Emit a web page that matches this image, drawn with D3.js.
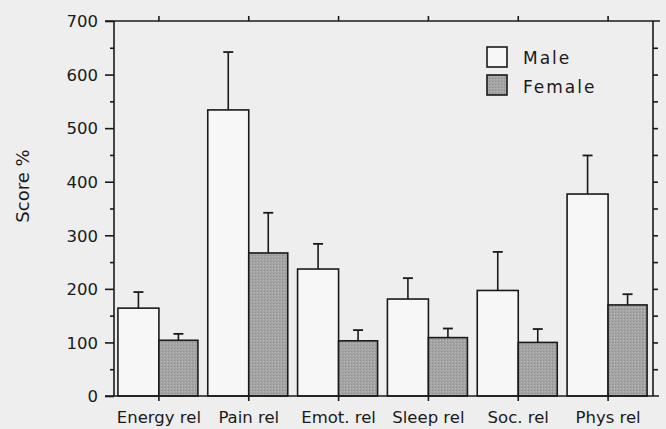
<!DOCTYPE html>
<html><head><meta charset="utf-8">
<script src="https://cdn.jsdelivr.net/npm/d3@7"></script>
<style>
body{margin:0;background:#eeeeee;}
svg{display:block;}
text{font-family:"DejaVu Sans",sans-serif;fill:#1a1a1a;}
</style></head>
<body>
<script>
const categories = ["Energy rel","Pain rel","Emot. rel","Sleep rel","Soc. rel","Phys rel"];
const maleValues = [164, 534, 237, 181, 197, 377];
const maleErrors = [194, 642, 284, 220, 269, 449];
const femaleValues = [104, 267, 103, 109, 100, 170];
const femaleErrors = [116, 342, 123, 126, 125, 190];
const yTicks = [0,100,200,300,400,500,600,700];
const seriesNames = ["Male","Female"];

const W = 666, H = 429;
const pLeft = 114, pRight = 653, pTop = 21, pBottom = 396;
const svg = d3.select("body").append("svg").attr("width",W).attr("height",H);

const defs = svg.append("defs");
const pat = defs.append("pattern").attr("id","stip").attr("patternUnits","userSpaceOnUse")
  .attr("width",3).attr("height",3);
pat.append("rect").attr("width",3).attr("height",3).attr("fill","#a4a4a4");
pat.append("rect").attr("x",0).attr("y",0).attr("width",1).attr("height",1).attr("fill","#8e8e8e");
pat.append("rect").attr("x",2).attr("y",1).attr("width",1).attr("height",1).attr("fill","#b8b8b8");

const x = d3.scaleBand().domain(categories).range([pLeft,pRight]).padding(0);
const y = d3.scaleLinear().domain([0,700]).range([pBottom,pTop]);
const barW = 41;
const stroke = "#1a1a1a";

const g = svg.append("g");
categories.forEach((c,i)=>{
  const cx = x(c) + x.bandwidth()/2;
  g.append("rect").attr("x",cx-barW).attr("y",y(maleValues[i])).attr("width",barW)
    .attr("height",y(0)-y(maleValues[i])).attr("fill","#f7f7f7").attr("stroke",stroke).attr("stroke-width",1.6);
  g.append("line").attr("x1",cx-barW/2).attr("x2",cx-barW/2).attr("y1",y(maleValues[i])).attr("y2",y(maleErrors[i]))
    .attr("stroke",stroke).attr("stroke-width",1.6);
  g.append("line").attr("x1",cx-barW/2-5).attr("x2",cx-barW/2+5).attr("y1",y(maleErrors[i])).attr("y2",y(maleErrors[i]))
    .attr("stroke",stroke).attr("stroke-width",1.8);
  g.append("rect").attr("x",cx).attr("y",y(femaleValues[i])).attr("width",barW-2)
    .attr("height",y(0)-y(femaleValues[i])).attr("fill","url(#stip)").attr("stroke",stroke).attr("stroke-width",1.6);
  const fx = cx + (barW-2)/2;
  g.append("line").attr("x1",fx).attr("x2",fx).attr("y1",y(femaleValues[i])).attr("y2",y(femaleErrors[i]))
    .attr("stroke",stroke).attr("stroke-width",1.6);
  g.append("line").attr("x1",fx-5).attr("x2",fx+5).attr("y1",y(femaleErrors[i])).attr("y2",y(femaleErrors[i]))
    .attr("stroke",stroke).attr("stroke-width",1.8);
});

svg.append("line").attr("x1",pLeft).attr("x2",pLeft).attr("y1",pTop).attr("y2",pBottom).attr("stroke",stroke).attr("stroke-width",1.6);
svg.append("line").attr("x1",pRight).attr("x2",pRight).attr("y1",pTop).attr("y2",pBottom).attr("stroke",stroke).attr("stroke-width",1.6);
svg.append("line").attr("x1",pLeft-9).attr("x2",pRight+6).attr("y1",pBottom).attr("y2",pBottom).attr("stroke",stroke).attr("stroke-width",1.6);
svg.append("line").attr("x1",pLeft-9).attr("x2",pRight+7).attr("y1",pTop).attr("y2",pTop).attr("stroke",stroke).attr("stroke-width",1.6);

const yAxis = d3.axisLeft(y).tickValues(yTicks).tickSize(9).tickPadding(7).tickFormat(d3.format("d"));
const ya = svg.append("g").attr("transform",`translate(${pLeft},0)`).call(yAxis);
ya.select(".domain").remove();
ya.selectAll(".tick line").attr("stroke",stroke).attr("stroke-width",1.6);
ya.selectAll(".tick text").style("font-size","16.5px").attr("fill","#1a1a1a").attr("dy","0.35em");
const minor = d3.range(50,700,100);
const ym = svg.append("g").attr("transform",`translate(${pLeft},0)`).call(d3.axisLeft(y).tickValues(minor).tickSize(4).tickFormat(""));
ym.select(".domain").remove();
ym.selectAll(".tick line").attr("stroke",stroke).attr("stroke-width",1.6);
const yr = svg.append("g").attr("transform",`translate(${pRight},0)`).call(d3.axisRight(y).tickValues(d3.range(50,700,50)).tickSize(5).tickFormat(""));
yr.select(".domain").remove();
yr.selectAll(".tick line").attr("stroke",stroke).attr("stroke-width",1.6);

const xb = svg.append("g").attr("transform",`translate(0,${pBottom})`).call(d3.axisBottom(x).tickSize(5).tickPadding(10));
xb.select(".domain").remove();
xb.selectAll(".tick line").attr("stroke",stroke).attr("stroke-width",1.6);
xb.selectAll(".tick text").style("font-size","16.5px").attr("fill","#1a1a1a").attr("dy","0.71em");

const xt = svg.append("g").attr("transform",`translate(0,${pTop})`).call(d3.axisTop(x).tickSize(5).tickFormat(""));
xt.select(".domain").remove();
xt.selectAll(".tick line").attr("stroke",stroke).attr("stroke-width",1.6);

svg.append("text").attr("transform","translate(29,186) rotate(-90)").attr("text-anchor","middle")
  .style("font-size","18px").text("Score %");

const lg = svg.append("g");
seriesNames.forEach((n,i)=>{
  lg.append("rect").attr("x",487).attr("y",47+i*28).attr("width",20).attr("height",20)
    .attr("fill",i===0?"#f7f7f7":"url(#stip)").attr("stroke",stroke).attr("stroke-width",1.6);
  lg.append("text").attr("x",523).attr("y",64+i*29).style("font-size","17px").style("letter-spacing","2px").text(n);
});
</script>
</body></html>
